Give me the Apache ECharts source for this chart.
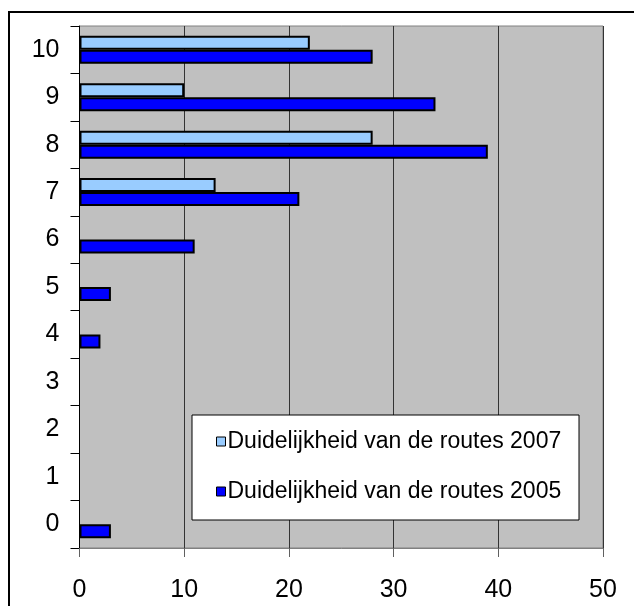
<!DOCTYPE html>
<html><head><meta charset="utf-8">
<script src="https://cdn.jsdelivr.net/npm/echarts@6/dist/echarts.min.js"></script>
<style>html,body{margin:0;padding:0;background:#fff}#c{width:634px;height:606px}</style>
</head><body><div id="c"></div>
<script>
const categories = ['0','1','2','3','4','5','6','7','8','9','10'];
const series2007 = [null,null,null,null,null,null,null,13,28,10,22];
const series2005 = [3,null,null,null,2,3,11,21,39,34,28];
const seriesNames = ['Duidelijkheid van de routes 2007','Duidelijkheid van de routes 2005'];
const xTicks = {min:0,max:50,interval:10};

const FONT = '"Liberation Sans", Arial, sans-serif';
const chart = echarts.init(document.getElementById('c'));
chart.setOption({
  animation:false,
  backgroundColor:'#fff',
  grid:{left:79.5,top:26,right:31,bottom:58,show:true,backgroundColor:'#C0C0C0',borderColor:'#808080',borderWidth:1},
  xAxis:{type:'value',min:xTicks.min,max:xTicks.max,interval:xTicks.interval,
    axisLine:{show:true,lineStyle:{color:'#808080',width:1}},
    axisTick:{show:true,length:9,lineStyle:{color:'#606060'}},
    axisLabel:{fontSize:25,color:'#000',fontFamily:FONT,margin:30},
    splitLine:{show:true,lineStyle:{color:'#333',width:1}}},
  yAxis:{type:'category',data:categories,
    axisLine:{show:true,lineStyle:{color:'#000',width:1}},
    axisTick:{show:true,length:9,lineStyle:{color:'#000'}},
    axisLabel:{fontSize:25,color:'#000',fontFamily:FONT,margin:20},
    splitLine:{show:false}},
  legend:{orient:'vertical',left:211,top:425,itemGap:27,itemWidth:9,itemHeight:9,icon:'rect',
    textStyle:{fontSize:23,color:'#000',fontFamily:FONT,padding:[0,0,0,-3]},
    itemStyle:{borderColor:'#000',borderWidth:1},
    data:seriesNames, z:5},
  graphic:[
    {type:'rect',shape:{x:192,y:415,width:387,height:105},style:{fill:'#fff',stroke:'#000',lineWidth:1},z:3},
    {type:'rect',shape:{x:9,y:12,width:700,height:700},style:{fill:'none',stroke:'#000',lineWidth:2},z:10}
  ],
  series:[
    {name:seriesNames[0],type:'bar',data:series2007,barWidth:14,barGap:'0%',
      itemStyle:{color:'#99CCFF',borderColor:'#000',borderWidth:2}},
    {name:seriesNames[1],type:'bar',data:series2005,barWidth:14,barGap:'0%',
      itemStyle:{color:'#0000FF',borderColor:'#000',borderWidth:2}}
  ]
});
</script></body></html>
